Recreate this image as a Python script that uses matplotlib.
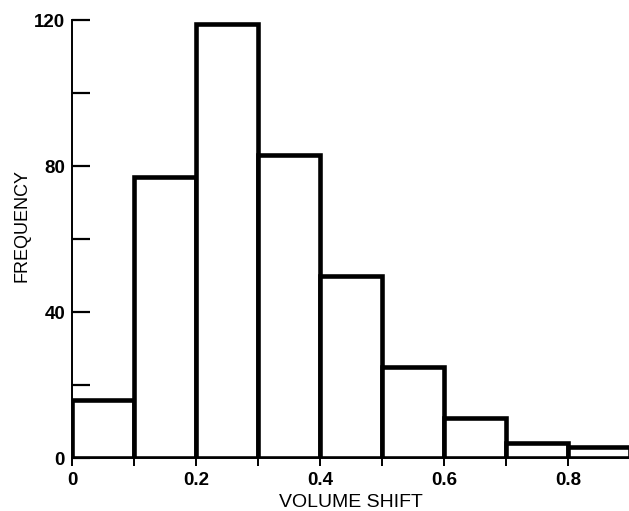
import matplotlib.pyplot as plt
from matplotlib.ticker import MultipleLocator

# histogram of volume shift
bin_edges = [0.0, 0.1, 0.2, 0.3, 0.4, 0.5, 0.6, 0.7, 0.8, 0.9]
counts = [16, 77, 119, 83, 50, 25, 11, 4, 3]
x_ticks = [0.0, 0.2, 0.4, 0.6, 0.8]
x_tick_labels = ['0', '0.2', '0.4', '0.6', '0.8']
y_ticks = [0, 40, 80, 120]
y_tick_labels = ['0', '40', '80', '120']

plt.rcParams['font.family'] = ['Liberation Sans', 'DejaVu Sans']

fig = plt.figure(figsize=(6.29, 5.11), dpi=100)
ax = fig.add_axes([0.1145, 0.1037, 0.8870, 0.8571])

lefts = bin_edges[:-1]
widths = [b - a for a, b in zip(bin_edges[:-1], bin_edges[1:])]
ax.bar(lefts, counts, width=widths, align='edge', color='white',
       edgecolor='black', linewidth=3.3)

ax.set_xlim(0, 0.9)
ax.set_ylim(0, 120)

for side in ['top', 'right']:
    ax.spines[side].set_visible(False)
for side in ['left', 'bottom']:
    ax.spines[side].set_linewidth(1.4)

ax.set_xticks(x_ticks)
ax.set_xticklabels(x_tick_labels, fontsize=13.5, fontweight='bold')
ax.xaxis.set_minor_locator(MultipleLocator(0.1))
ax.tick_params(axis='x', which='both', direction='out', length=6, width=1.4, pad=4)

ax.set_yticks(y_ticks)
ax.set_yticklabels(y_tick_labels, fontsize=13.5, fontweight='bold')
ax.yaxis.set_minor_locator(MultipleLocator(20))
ax.tick_params(axis='y', which='both', direction='in', length=13, width=1.6, pad=5)

ax.set_xlabel('VOLUME SHIFT', fontsize=14)
ax.set_ylabel('FREQUENCY', fontsize=13)
ax.xaxis.set_label_coords(0.5, -0.082)
ax.yaxis.set_label_coords(-0.075, 0.53)

fig.savefig('out.png', dpi=100)
